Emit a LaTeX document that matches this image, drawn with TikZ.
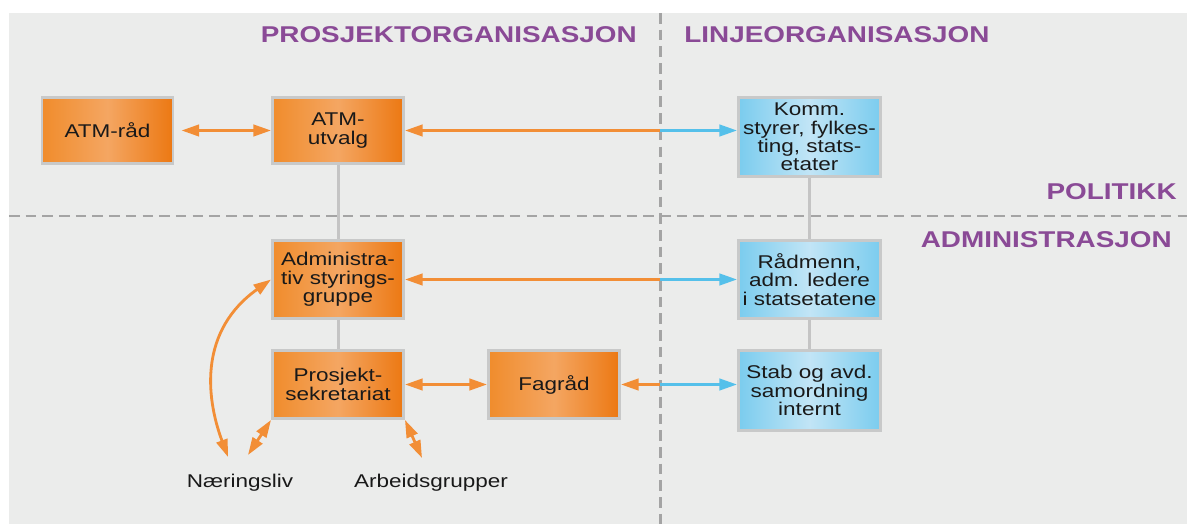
\documentclass[tikz,border=0pt]{standalone}
\usepackage{fontspec}
\setmainfont{Liberation Sans}[FakeStretch=1.22]
\usetikzlibrary{arrows.meta}

\definecolor{panelgray}{HTML}{EBECEB}
\definecolor{dashgray}{HTML}{A4A4A4}
\definecolor{boxgray}{HTML}{C8C9C9}
\definecolor{linkgray}{HTML}{C4C4C4}
\definecolor{orangeL}{HTML}{F08C2C}
\definecolor{orangeM}{HTML}{F4A662}
\definecolor{orangeR}{HTML}{EC7812}
\definecolor{blueL}{HTML}{7ACCEE}
\definecolor{blueM}{HTML}{C2E5F6}
\definecolor{blueR}{HTML}{7ACCEE}
\definecolor{arrorange}{HTML}{F28E36}
\definecolor{arrblue}{HTML}{55C0EA}
\definecolor{headpurple}{HTML}{8A4A96}

\tikzset{
    >={Triangle[length=10pt,width=6.5pt]},
    orangebox/.style={draw=boxgray, line width=1.7pt, left color=orangeL, right color=orangeR, middle color=orangeM,
        minimum width=2.62cm, align=center, inner sep=0pt, text=black!90, font=\fontsize{10.5}{10.5}\selectfont},
    bluebox/.style={orangebox, left color=blueL, right color=blueR, middle color=blueM, minimum width=2.84cm},
    heading/.style={text=headpurple, font=\fontsize{13}{13}\selectfont\bfseries, inner sep=0pt},
    plain/.style={text=black!90, font=\fontsize{10.5}{10.5}\selectfont, inner sep=0pt},
    divider/.style={draw=dashgray, line width=1.7pt, dash pattern=on 6pt off 3.5pt},
    link/.style={draw=linkgray, line width=1.7pt},
    oline/.style={draw=arrorange, line width=1.6pt},
    bline/.style={draw=arrblue, line width=1.6pt}
}

\begin{document}
\begin{tikzpicture}
                \useasboundingbox (0,0) rectangle (23.74,10.48);
                \fill[panelgray] (0.18,0) rectangle (23.74,10.22);

                % dividers
                \coordinate (vtop) at (13.2,10.22);
                \coordinate (vbot) at (13.2,0);
                \coordinate (hleft) at (0.18,6.16);
                \coordinate (hright) at (23.74,6.16);
                \draw[divider] (hleft) -- (hright);
                \draw[divider] (vtop) -- (vbot);

                % headings
                \node[heading, anchor=base east] (prosj) at (12.74,9.62) {PROSJEKTORGANISASJON};
                \node[heading, anchor=base west] (linje) at (13.68,9.62) {LINJEORGANISASJON};
                \node[heading, anchor=base east] (polit) at (23.54,6.48) {POLITIKK};
                \node[heading, anchor=base east] (admin) at (23.44,5.52) {ADMINISTRASJON};

                % boxes
                \node[orangebox, minimum height=1.32cm] (rad) at (2.15,7.87) {ATM-råd};
                \node[orangebox, minimum height=1.32cm] (utv) at (6.76,7.87) {ATM-\\utvalg};
                \node[orangebox, minimum height=1.56cm] (adm) at (6.76,4.89) {Administra-\\tiv styrings-\\gruppe};
                \node[orangebox, minimum height=1.36cm] (sekr) at (6.76,2.79) {Prosjekt-\\sekretariat};
                \node[orangebox, minimum height=1.36cm] (fag) at (11.08,2.79) {Fagråd};
                \node[bluebox, minimum height=1.58cm] (komm) at (16.19,7.74) {Komm.\\styrer, fylkes-\\ting, stats-\\etater};
                \node[bluebox, minimum height=1.56cm] (radm) at (16.19,4.89) {Rådmenn,\\adm. ledere\\i statsetatene};
                \node[bluebox, minimum height=1.60cm] (stab) at (16.19,2.67) {Stab og avd.\\samordning\\internt};

                \node[plain, anchor=base] (naer) at (4.80,0.74) {Næringsliv};
                \node[plain, anchor=base] (arb) at (8.62,0.74) {Arbeidsgrupper};
                \coordinate (naerA) at (4.56,1.34);
                \coordinate (naerB) at (4.96,1.38);
                \coordinate (arbA) at (8.44,1.32);

                % links
                \draw[link] (utv.south) -- (adm.north);
                \draw[link] (adm.south) -- (sekr.north);
                \draw[link] (komm.south) -- (radm.north);
                \draw[link] (radm.south) -- (stab.north);

                % arrows
                \draw[oline, <->, shorten <=4pt] (rad.east) -- (utv.west);
                \draw[oline, <->] (sekr.east) -- (fag.west);
                \draw[oline, <-] (utv.east) -- (utv.east -| vtop);
                \draw[bline, ->] (utv.east -| vtop) -- (utv.east -| komm.west);
                \draw[oline, <-] (adm.east) -- (adm.east -| vtop);
                \draw[bline, ->] (adm.east -| vtop) -- (adm.east -| radm.west);
                \draw[oline, <-] (fag.east) -- (fag.east -| vtop);
                \draw[bline, ->] (fag.east -| vtop) -- (fag.east -| stab.west);
                \draw[oline, <->] (naerA) .. controls (4.10,2.58) and (4.00,3.88) .. (adm.west);
                \draw[oline, <->] (naerB) -- (sekr.south west);
                \draw[oline, <->] (sekr.south east) -- (arbA);
\end{tikzpicture}
\end{document}
